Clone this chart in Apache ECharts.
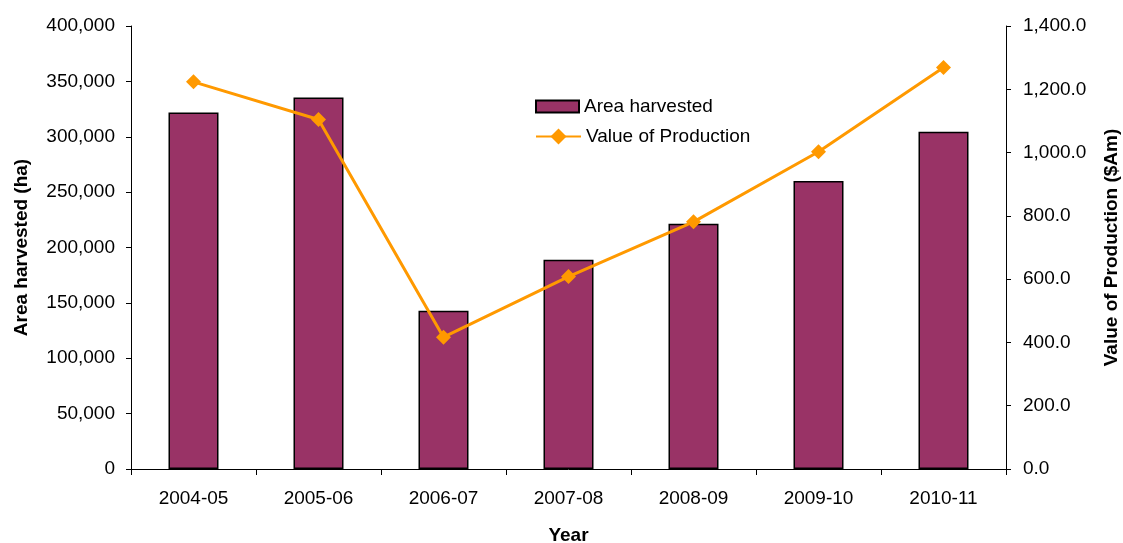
<!DOCTYPE html>
<html>
<head>
<meta charset="utf-8">
<script src="https://cdn.jsdelivr.net/npm/echarts@6/dist/echarts.min.js"></script>
<style>
  html, body { margin: 0; padding: 0; background: #ffffff; overflow: hidden; }
  #chart { width: 1123px; height: 543px; }
</style>
</head>
<body>
<div id="chart"></div>
<script>
// Harvest seasons
const years = ['2004-05', '2005-06', '2006-07', '2007-08', '2008-09', '2009-10', '2010-11'];
// Area harvested (ha)
const areaHarvested = [322000, 335500, 143000, 189000, 221500, 260000, 304500];
// Value of production ($Am)
const productionValue = [1223.5, 1104.5, 416.5, 608.0, 781.0, 1002.5, 1268.5];

const FONT = '"Liberation Sans", Arial, sans-serif';
const TXT = '#000000';

const chart = echarts.init(document.getElementById('chart'), null, {
  renderer: 'canvas', width: 1123, height: 543
});

const legendText = { fontFamily: FONT, fontSize: 19, color: TXT };

chart.setOption({
  animation: false,
  backgroundColor: '#ffffff',
  textStyle: { fontFamily: FONT, color: TXT },
  grid: {
    left: 131, right: 117, top: 26, bottom: 74,
    containLabel: false,
    outerBoundsMode: 'none'
  },
  legend: [
    {
      left: 530,
      top: 92,
      itemWidth: 43,
      itemHeight: 12,
      textStyle: legendText,
      data: [{ name: 'Area harvested', icon: 'rect' }]
    },
    {
      left: 530,
      top: 122,
      itemWidth: 45,
      itemHeight: 20,
      textStyle: legendText,
      data: ['Value of Production']
    }
  ],
  xAxis: {
    type: 'category',
    data: years,
    name: 'Year',
    nameLocation: 'middle',
    nameGap: 57,
    nameTextStyle: { fontFamily: FONT, fontSize: 19, fontWeight: 'bold', color: TXT },
    axisLine: { lineStyle: { color: '#000', width: 1 } },
    axisTick: { show: true, length: 6, lineStyle: { color: '#000' } },
    axisLabel: { fontFamily: FONT, fontSize: 19, color: TXT, margin: 20 },
    splitLine: { show: false }
  },
  yAxis: [
    {
      type: 'value',
      min: 0,
      max: 400000,
      interval: 50000,
      position: 'left',
      name: 'Area harvested (ha)',
      nameLocation: 'middle',
      nameGap: 100,
      nameRotate: 90,
      nameTextStyle: { fontFamily: FONT, fontSize: 19, fontWeight: 'bold', color: TXT },
      axisLine: { show: true, lineStyle: { color: '#000', width: 1 } },
      axisTick: { show: true, length: 5, lineStyle: { color: '#000' } },
      axisLabel: {
        fontFamily: FONT, fontSize: 19, color: TXT, margin: 16,
        formatter: v => v.toLocaleString('en-US')
      },
      splitLine: { show: false }
    },
    {
      type: 'value',
      min: 0,
      max: 1400,
      interval: 200,
      position: 'right',
      name: 'Value of Production ($Am)',
      nameLocation: 'middle',
      nameGap: 96,
      nameRotate: 90,
      nameTextStyle: { fontFamily: FONT, fontSize: 19, fontWeight: 'bold', color: TXT },
      axisLine: { show: true, lineStyle: { color: '#000', width: 1 } },
      axisTick: { show: true, length: 5, lineStyle: { color: '#000' } },
      axisLabel: {
        fontFamily: FONT, fontSize: 19, color: TXT, margin: 17,
        formatter: v => v.toLocaleString('en-US', { minimumFractionDigits: 1, maximumFractionDigits: 1 })
      },
      splitLine: { show: false }
    }
  ],
  series: [
    {
      name: 'Area harvested',
      type: 'bar',
      yAxisIndex: 0,
      data: areaHarvested,
      barWidth: 50,
      itemStyle: { color: '#993366', borderColor: '#000000', borderWidth: 1.5 },
      z: 2
    },
    {
      name: 'Value of Production',
      type: 'line',
      yAxisIndex: 1,
      data: productionValue,
      symbol: 'diamond',
      symbolSize: 15,
      lineStyle: { color: '#FF9900', width: 3 },
      itemStyle: { color: '#FF9900' },
      z: 3
    }
  ]
});
</script>
</body>
</html>
